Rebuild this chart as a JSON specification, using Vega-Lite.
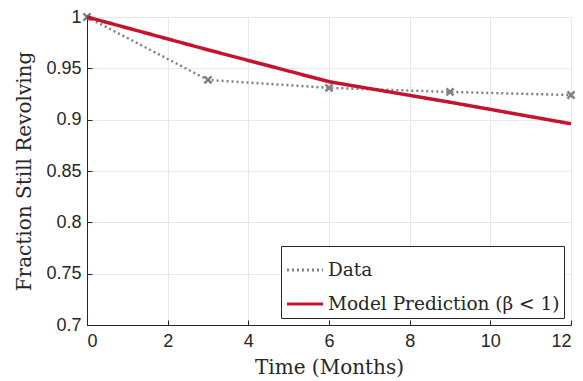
{
  "$schema": "https://vega.github.io/schema/vega-lite/v6.json",
  "width": 484,
  "height": 308,
  "autosize": {"type": "none"},
  "padding": {"left": 87, "top": 17, "right": 12, "bottom": 56},
  "background": "white",
  "config": {
    "view": {"stroke": null},
    "axis": {
      "labelFont": "Liberation Sans",
      "labelFontSize": 18,
      "labelColor": "#262626",
      "titleFont": "DejaVu Serif",
      "titleFontWeight": "normal",
      "titleFontSize": 20,
      "titleColor": "#262626",
      "gridColor": "#e8e8e8",
      "domainColor": "#262626",
      "tickColor": "#262626",
      "tickSize": -5
    }
  },
  "datasets": {
    "obs": [
      {"t": 0, "v": 1.0, "series": "Data"},
      {"t": 3, "v": 0.9387, "series": "Data"},
      {"t": 6, "v": 0.931, "series": "Data"},
      {"t": 9, "v": 0.927, "series": "Data"},
      {"t": 12, "v": 0.924, "series": "Data"}
    ],
    "model": [
      {"t": 0, "v": 1.0, "series": "Model Prediction (β < 1)"},
      {"t": 3, "v": 0.968, "series": "Model Prediction (β < 1)"},
      {"t": 6, "v": 0.937, "series": "Model Prediction (β < 1)"},
      {"t": 9, "v": 0.917, "series": "Model Prediction (β < 1)"},
      {"t": 12, "v": 0.896, "series": "Model Prediction (β < 1)"}
    ]
  },
  "encoding": {
    "x": {"field": "t", "type": "quantitative", "scale": {"domain": [0, 12], "nice": false},
      "axis": {"title": "Time (Months)", "values": [0, 2, 4, 6, 8, 10, 12], "labelPadding": 12, "titlePadding": 7}},
    "y": {"field": "v", "type": "quantitative", "scale": {"domain": [0.7, 1], "nice": false, "zero": false},
      "axis": {"title": "Fraction Still Revolving", "values": [0.7, 0.75, 0.8, 0.85, 0.9, 0.95, 1], "labelExpr": "datum.value == 1 ? '1' : format(datum.value, '.2~f')", "labelPadding": 11, "titlePadding": 11}}
  },
  "layer": [
    {
      "data": {"name": "obs"},
      "mark": {"type": "line", "strokeWidth": 2.5, "strokeDash": [2, 3]},
      "encoding": {
        "color": {"field": "series", "type": "nominal",
          "scale": {"domain": ["Data", "Model Prediction (β < 1)"], "range": ["#808080", "#c4122f"]},
          "legend": {"title": null, "orient": "bottom-right", "offset": 7, "symbolType": "stroke", "symbolSize": 1300, "symbolStrokeWidth": 3,
            "labelFont": "DejaVu Serif", "labelFontSize": 18.5, "labelLimit": 0, "labelColor": "#262626", "strokeColor": "#262626", "fillColor": "white", "padding": 4, "rowPadding": 4, "labelOffset": 3}},
        "strokeDash": {"field": "series", "type": "nominal",
          "scale": {"domain": ["Data", "Model Prediction (β < 1)"], "range": [[2, 3], [1, 0]]}}
      }
    },
    {
      "data": {"name": "obs"},
      "mark": {"type": "point", "shape": "M-1,-1L1,1M-1,1L1,-1", "filled": false, "stroke": "#808080", "strokeWidth": 2.5, "size": 50, "opacity": 1},
      "encoding": {}
    },
    {
      "data": {"name": "model"},
      "mark": {"type": "line", "strokeWidth": 3.5},
      "encoding": {
        "color": {"field": "series", "type": "nominal"},
        "strokeDash": {"field": "series", "type": "nominal"}
      }
    }
  ]
}
